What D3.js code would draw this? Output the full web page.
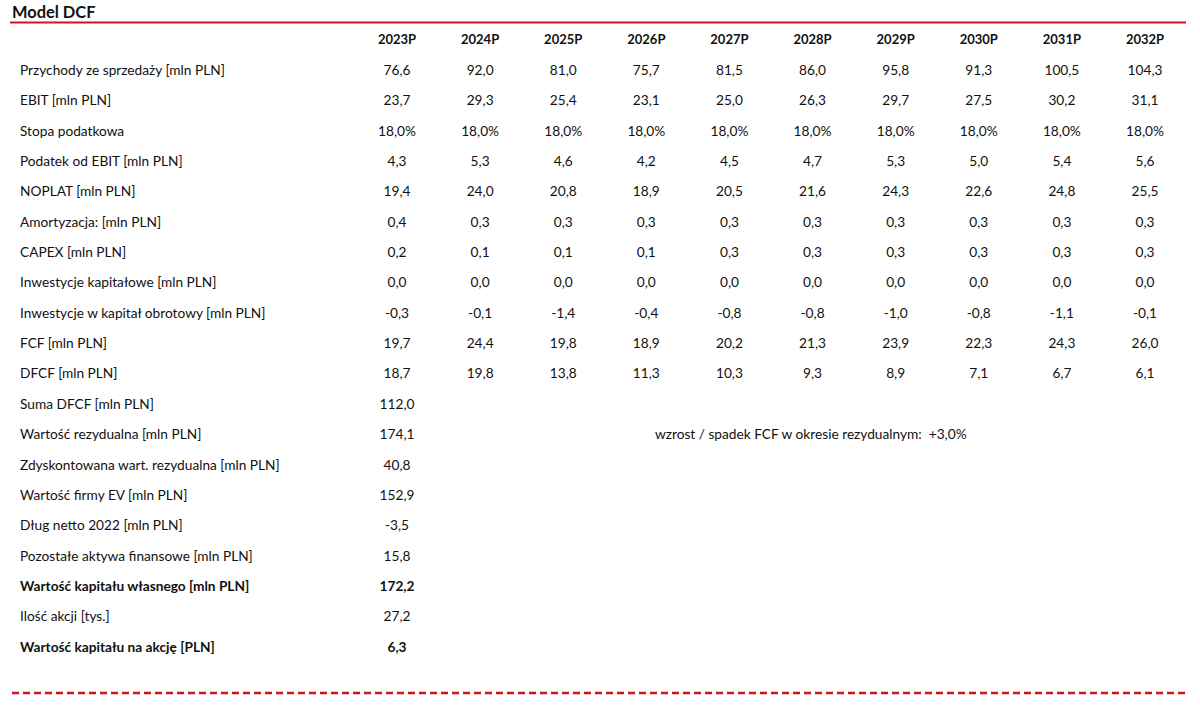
<!DOCTYPE html>
<html><head><meta charset="utf-8">
<script src="https://cdn.jsdelivr.net/npm/d3@7"></script>
<style>body{margin:0;background:#fff}svg{display:block}text{font-family:Lato,"Open Sans",sans-serif;fill:#111}</style>
</head><body>
<svg id="c" width="1200" height="707"></svg>
<script>
const title = "Model DCF";
const years = ["2023P","2024P","2025P","2026P","2027P","2028P","2029P","2030P","2031P","2032P"];
const rowLabels = [
  "Przychody ze sprzedaży [mln PLN]",
  "EBIT [mln PLN]",
  "Stopa podatkowa",
  "Podatek od EBIT [mln PLN]",
  "NOPLAT [mln PLN]",
  "Amortyzacja: [mln PLN]",
  "CAPEX [mln PLN]",
  "Inwestycje kapitałowe [mln PLN]",
  "Inwestycje w kapitał obrotowy [mln PLN]",
  "FCF [mln PLN]",
  "DFCF [mln PLN]"
];
const przychody = [76.6, 92.0, 81.0, 75.7, 81.5, 86.0, 95.8, 91.3, 100.5, 104.3];
const ebit = [23.7, 29.3, 25.4, 23.1, 25.0, 26.3, 29.7, 27.5, 30.2, 31.1];
const stopa = [0.18, 0.18, 0.18, 0.18, 0.18, 0.18, 0.18, 0.18, 0.18, 0.18];
const podatek = [4.3, 5.3, 4.6, 4.2, 4.5, 4.7, 5.3, 5.0, 5.4, 5.6];
const noplat = [19.4, 24.0, 20.8, 18.9, 20.5, 21.6, 24.3, 22.6, 24.8, 25.5];
const amortyzacja = [0.4, 0.3, 0.3, 0.3, 0.3, 0.3, 0.3, 0.3, 0.3, 0.3];
const capex = [0.2, 0.1, 0.1, 0.1, 0.3, 0.3, 0.3, 0.3, 0.3, 0.3];
const inwKapitalowe = [0.0, 0.0, 0.0, 0.0, 0.0, 0.0, 0.0, 0.0, 0.0, 0.0];
const inwObrotowy = [-0.3, -0.1, -1.4, -0.4, -0.8, -0.8, -1.0, -0.8, -1.1, -0.1];
const fcf = [19.7, 24.4, 19.8, 18.9, 20.2, 21.3, 23.9, 22.3, 24.3, 26.0];
const dfcf = [18.7, 19.8, 13.8, 11.3, 10.3, 9.3, 8.9, 7.1, 6.7, 6.1];
const seriesValues = [przychody, ebit, stopa, podatek, noplat, amortyzacja, capex, inwKapitalowe, inwObrotowy, fcf, dfcf];
const percentRows = ["Stopa podatkowa"];

const summaryLabels = [
  "Suma DFCF [mln PLN]",
  "Wartość rezydualna [mln PLN]",
  "Zdyskontowana wart. rezydualna [mln PLN]",
  "Wartość firmy EV [mln PLN]",
  "Dług netto 2022 [mln PLN]",
  "Pozostałe aktywa finansowe [mln PLN]",
  "Wartość kapitału własnego [mln PLN]",
  "Ilość akcji [tys.]",
  "Wartość kapitału na akcję [PLN]"
];
const summaryValues = [112.0, 174.1, 40.8, 152.9, -3.5, 15.8, 172.2, 27.2, 6.3];
const boldSummary = ["Wartość kapitału własnego [mln PLN]", "Wartość kapitału na akcję [PLN]"];
const growthNote = "wzrost / spadek FCF w okresie rezydualnym:";
const growthValue = 0.03;

const locale = d3.formatLocale({decimal: ",", thousands: " ", grouping: [3], currency: ["", " zł"], minus: "-", percent: "%"});
const fNum = locale.format(".1f");
const fPct = locale.format(".1%");
const fSigned = locale.format("+.1%");

const svg = d3.select("#c");
const x = d3.scalePoint().domain(years).range([397, 1145]);
const nRows = rowLabels.length + summaryLabels.length;
const y = d3.scaleLinear().domain([-1, nRows - 1]).range([39.6, 647]);

// font size fitting
const probe = svg.append("text").style("font-size", "100px").text(rowLabels[0]);
const w100 = probe.node().getComputedTextLength();
probe.remove();
const fs = 100 * 205 / w100;

// title
svg.append("text").attr("x", 12).attr("y", 18).style("font-size", (fs*1.2)+"px").style("font-weight", 700).text(title);
svg.append("line").attr("x1", 10).attr("x2", 1186).attr("y1", 22.5).attr("y2", 22.5)
  .attr("stroke", "#d0141e").attr("stroke-width", 2);

// header
svg.append("g").selectAll("text").data(years).join("text")
  .attr("x", d => x(d)).attr("y", y(-1)).attr("dy", "0.35em")
  .attr("text-anchor", "middle").style("font-size", (fs*0.95)+"px").style("font-weight", 700).text(d => d);

// rows
const rows = svg.append("g").selectAll("g").data(rowLabels).join("g")
  .attr("transform", (d, i) => `translate(0,${y(i)})`);
rows.append("text").attr("x", 20).attr("dy", "0.35em").style("font-size", fs+"px").text(d => d);
rows.each(function(lab, i) {
  const isPct = percentRows.includes(lab);
  d3.select(this).selectAll("text.v").data(seriesValues[i]).join("text").attr("class", "v")
    .attr("x", (d, j) => x(years[j])).attr("dy", "0.35em").attr("text-anchor", "middle")
    .style("font-size", fs+"px").text(d => isPct ? fPct(d) : fNum(d));
});

// summary
const srows = svg.append("g").selectAll("g").data(summaryLabels).join("g")
  .attr("transform", (d, i) => `translate(0,${y(rowLabels.length + i)})`);
srows.append("text").attr("x", 20).attr("dy", "0.35em").style("font-size", fs+"px")
  .style("font-weight", d => boldSummary.includes(d) ? 700 : 400).text(d => d);
srows.append("text").attr("x", x(years[0])).attr("dy", "0.35em").attr("text-anchor", "middle")
  .style("font-size", fs+"px")
  .style("font-weight", (d) => boldSummary.includes(d) ? 700 : 400)
  .text((d, i) => fNum(summaryValues[i]));

// growth note
svg.append("text").attr("x", 655).attr("y", y(rowLabels.length + 1)).attr("dy", "0.35em")
  .style("font-size", fs+"px").style("white-space", "pre")
  .text(growthNote + "  " + fSigned(growthValue));

// bottom dashed line
svg.append("line").attr("x1", 12).attr("x2", 1187).attr("y1", 693).attr("y2", 693)
  .attr("stroke", "#d0141e").attr("stroke-width", 2.5).attr("stroke-dasharray", "7,4");
</script>
</body></html>
